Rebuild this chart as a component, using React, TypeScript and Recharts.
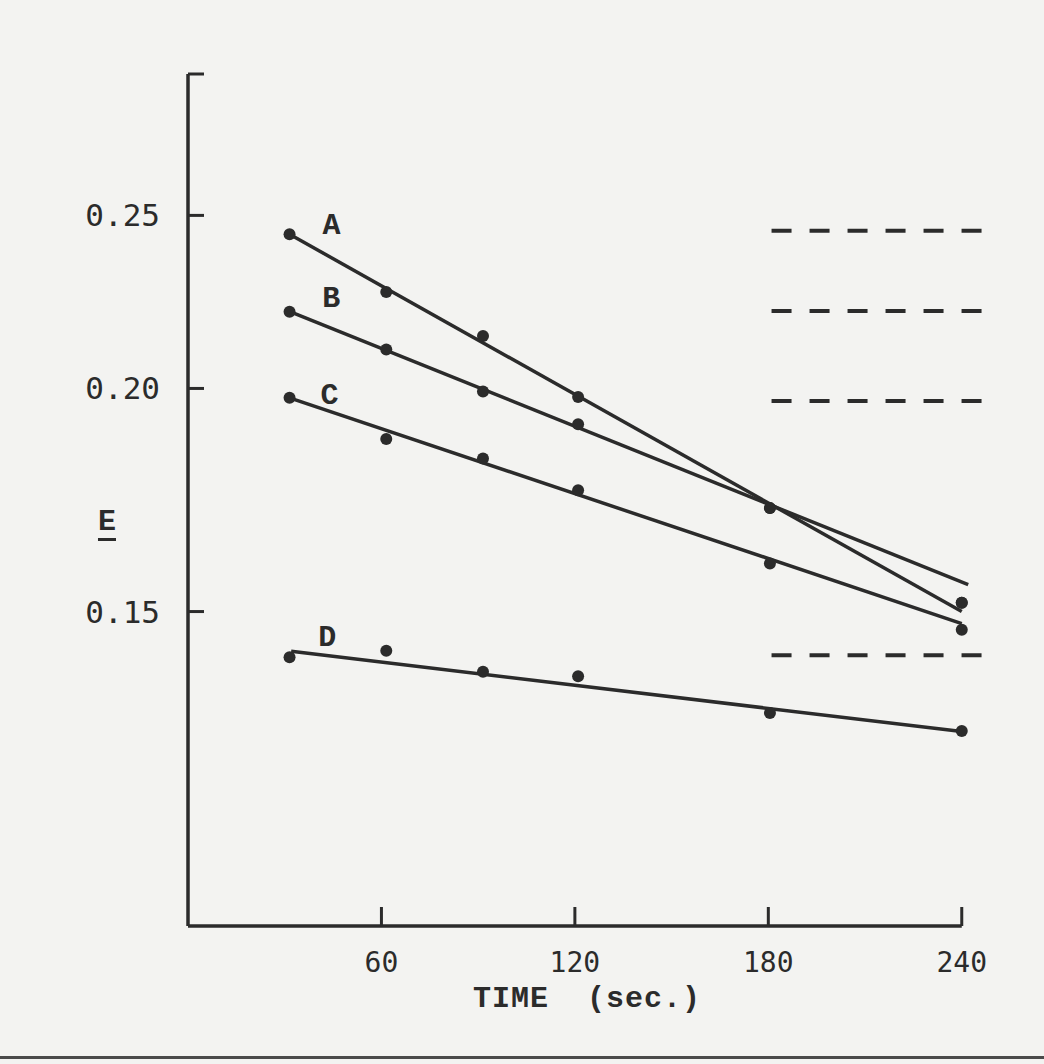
import React from "react";
import {
  ComposedChart,
  Label,
  LabelList,
  Line,
  ReferenceLine,
  XAxis,
  YAxis,
} from "recharts";

// sampling times (sec.)
const times = [31.5, 61.5, 91.5, 121, 180.5, 240];

// measured extinction E for each run
const readingsA = [0.244, 0.2265, 0.214, 0.1978, 0.1714, 0.1517];
const readingsB = [0.2208, 0.2103, 0.1992, 0.191, 0.1714, 0.1517];
const readingsC = [0.1976, 0.1874, 0.1827, 0.1754, 0.1596, 0.1465];
const readingsD = [0.1414, 0.1426, 0.1388, 0.138, 0.1316, 0.1286];

// fitted straight lines (log E against time): start / end
const fitTimesA = [31.5, 240];
const fitA = [0.244, 0.15];
const fitTimesB = [32, 242];
const fitB = [0.2207, 0.1553];
const fitTimesC = [31.5, 240];
const fitC = [0.1976, 0.1477];
const fitTimesD = [32, 240];
const fitD = [0.1425, 0.1285];

// starting values, shown as dashed levels on the right
const initialE = [0.2451, 0.221, 0.1968, 0.1418];
const dashSpan = [181, 249];

const runNames = ["A", "B", "C", "D"];
const xTicks = [60, 120, 180, 240];
const yTicks = [0.15, 0.2, 0.25, 0.3];
const yTickLabels = ["0.15", "0.20", "0.25", ""];

const INK = "#2b2b2b";
const PAPER = "#f3f3f1";
const TYPE_SANS = "'DejaVu Sans Mono', monospace";
const TYPE_SERIF = "'Liberation Mono', 'Courier New', monospace";

// full-bleed sheet
document.documentElement.style.background = PAPER;
document.body.style.margin = "0";
document.body.style.background = PAPER;

const toRows = (ts: number[], es: number[]) =>
  ts.map((t, i) => ({ t, e: es[i] }));

const runs = [
  { readings: readingsA, fitT: fitTimesA, fit: fitA, dx: 42, dy: -8 },
  { readings: readingsB, fitT: fitTimesB, fit: fitB, dx: 40, dy: -13 },
  { readings: readingsC, fitT: fitTimesC, fit: fitC, dx: 40, dy: -2 },
  { readings: readingsD, fitT: fitTimesD, fit: fitD, dx: 36, dy: -13 },
];

const XTick = (props: any) => {
  const { x, y, payload } = props;
  return (
    <g>
      <line x1={x} y1={y} x2={x} y2={y - 19} stroke={INK} strokeWidth={3} />
      <text
        x={x}
        y={y + 36}
        textAnchor="middle"
        dominantBaseline="central"
        fontFamily={TYPE_SANS}
        fontSize={28}
        fill={INK}
      >
        {payload.value}
      </text>
    </g>
  );
};

const YTick = (props: any) => {
  const { x, y, index } = props;
  return (
    <g>
      <line x1={x} y1={y} x2={x + 16} y2={y} stroke={INK} strokeWidth={3} />
      <text
        x={x - 28}
        y={y}
        textAnchor="end"
        dominantBaseline="central"
        fontFamily={TYPE_SANS}
        fontSize={31}
        fill={INK}
      >
        {yTickLabels[index]}
      </text>
    </g>
  );
};

const nameLabel = (name: string, dx: number, dy: number) => (props: any) => {
  if (props.index !== 0) return null;
  return (
    <text
      x={props.x + dx}
      y={props.y + dy}
      textAnchor="middle"
      dominantBaseline="central"
      fontFamily={TYPE_SERIF}
      fontWeight="bold"
      fontSize={30}
      fill={INK}
    >
      {name}
    </text>
  );
};

export default function App() {
  return (
    <div
      style={{
        width: 1044,
        height: 1056,
        background: PAPER,
        borderBottom: "3px solid #4a4a4a",
      }}
    >
      <ComposedChart
        width={1044}
        height={1056}
        margin={{ top: 74, right: 50, bottom: 20, left: 0 }}
      >
        <XAxis
          type="number"
          dataKey="t"
          domain={[0, 250]}
          ticks={xTicks}
          interval={0}
          axisLine={false}
          tickLine={false}
          tickSize={0}
          tickMargin={0}
          height={110}
          tick={<XTick />}
        >
          <Label
            content={(p: any) => (
              <text
                x={p.viewBox.x + 285}
                y={p.viewBox.y + 73}
                dominantBaseline="central"
                fontFamily={TYPE_SERIF}
                fontWeight="bold"
                fontSize={30}
                letterSpacing={1}
                fill={INK}
                style={{ whiteSpace: "pre" }}
              >
                {"TIME  (sec.)"}
              </text>
            )}
          />
        </XAxis>
        <YAxis
          type="number"
          dataKey="e"
          scale="log"
          domain={[0.1, 0.3]}
          allowDataOverflow
          ticks={yTicks}
          interval={0}
          width={188}
          axisLine={{ stroke: INK, strokeWidth: 3.5 }}
          tickLine={false}
          tickSize={0}
          tickMargin={0}
          tick={<YTick />}
        >
          <Label
            content={(p: any) => (
              <text
                x={p.viewBox.x + 107}
                y={p.viewBox.y + 448}
                textAnchor="middle"
                dominantBaseline="central"
                fontFamily={TYPE_SERIF}
                fontWeight="bold"
                fontSize={30}
                fill={INK}
                textDecoration="underline"
              >
                E
              </text>
            )}
          />
        </YAxis>

        {/* time axis runs only to 240 s */}
        <ReferenceLine
          segment={[
            { x: 0, y: 0.1 },
            { x: 240, y: 0.1 },
          ]}
          stroke={INK}
          strokeWidth={3.5}
          ifOverflow="visible"
        />

        {initialE.map((e, i) => (
          <ReferenceLine
            key={`init-${i}`}
            segment={[
              { x: dashSpan[0], y: e },
              { x: dashSpan[1], y: e },
            ]}
            stroke={INK}
            strokeWidth={4}
            strokeDasharray="20 18"
            ifOverflow="visible"
          />
        ))}

        {runs.map((r, i) => (
          <Line
            key={`fit-${i}`}
            data={toRows(r.fitT, r.fit)}
            dataKey="e"
            type="linear"
            stroke={INK}
            strokeWidth={3.5}
            dot={false}
            activeDot={false}
            isAnimationActive={false}
          >
            <LabelList dataKey="e" content={nameLabel(runNames[i], r.dx, r.dy)} />
          </Line>
        ))}

        {runs.map((r, i) => (
          <Line
            key={`pts-${i}`}
            data={toRows(times, r.readings)}
            dataKey="e"
            stroke="none"
            dot={{ r: 6, fill: INK, stroke: "none" }}
            activeDot={false}
            isAnimationActive={false}
          />
        ))}
      </ComposedChart>
    </div>
  );
}
